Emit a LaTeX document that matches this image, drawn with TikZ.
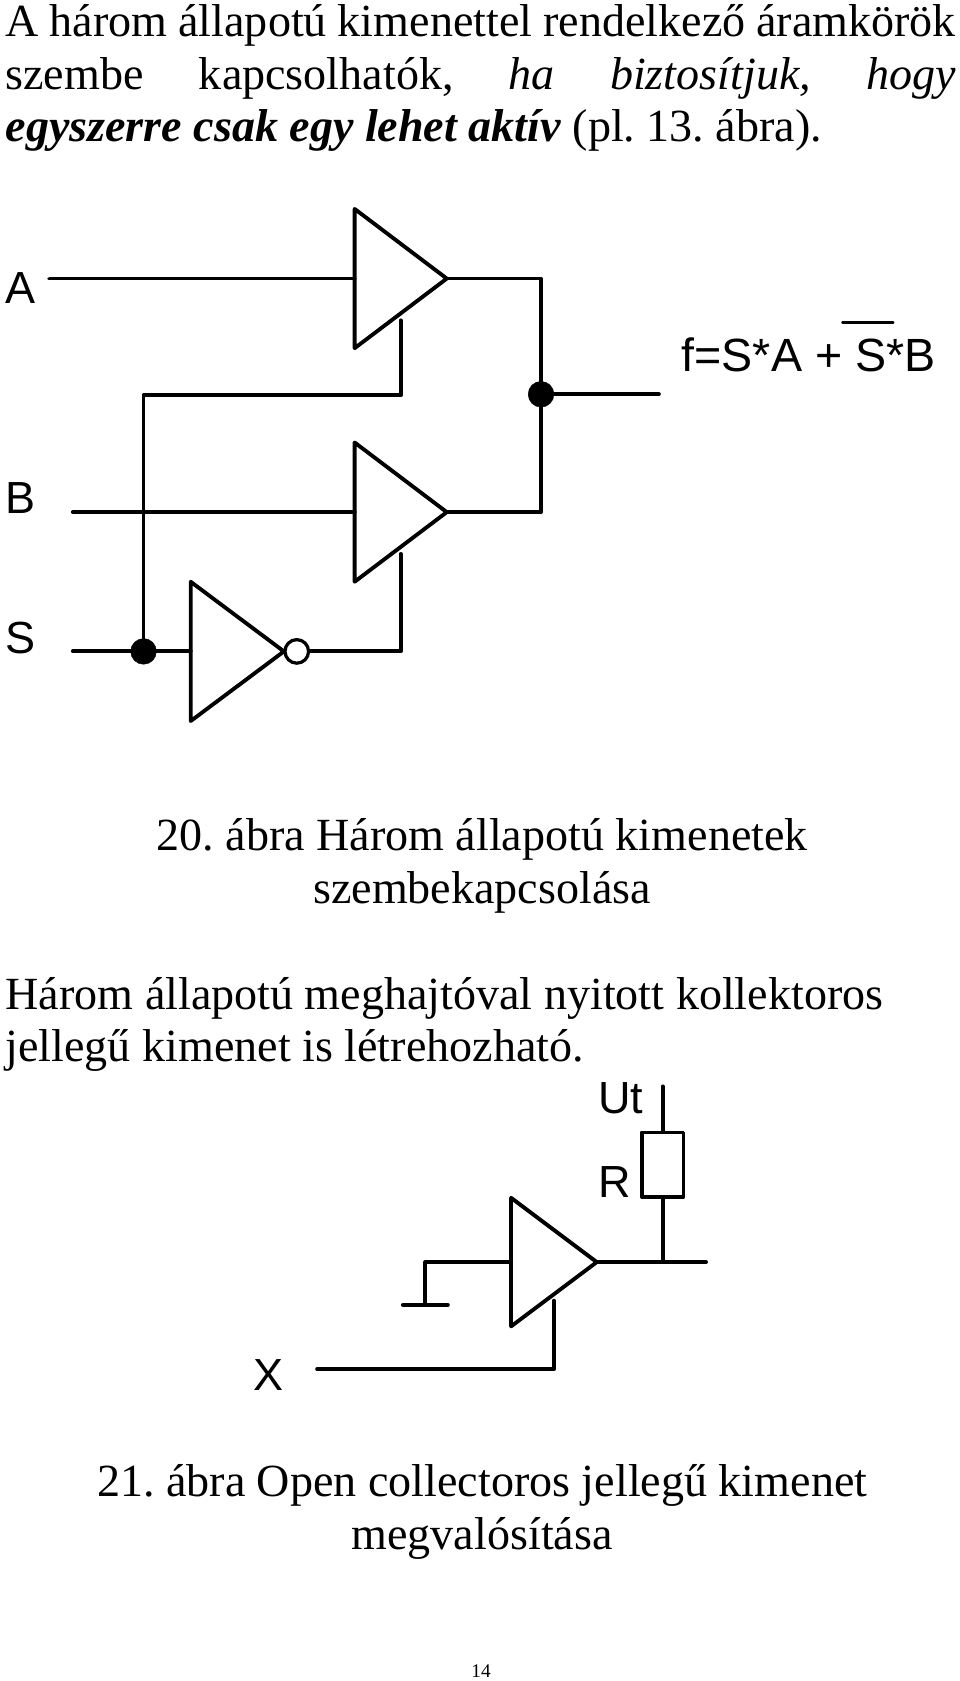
\documentclass[tikz,border=0pt]{standalone}
\usepackage{fontspec}
\setmainfont{Liberation Serif}
\newfontfamily\labelfont{Liberation Sans}
\tikzset{
	wire/.style={line width=3.6pt},
	dot/.style={circle,fill=black,draw=black,inner sep=0pt,minimum size=24pt},
	bubble/.style={circle,fill=white,draw=black,line width=3pt,inner sep=0pt,minimum size=22pt},
	sig/.style={font=\labelfont\fontsize{42}{48}\selectfont,anchor=base west,inner sep=0pt},
	body/.style={font=\frenchspacing\fontsize{43}{49}\selectfont,inner sep=0pt},
}
\begin{document}
\begin{tikzpicture}[x=1pt, y=-1pt, line join=round, line cap=round]
	\useasboundingbox (0,0) rectangle (896,1569);
	% text
	\node[body,anchor=north west,text width=887pt,align=justify] (intro) at (5,4) {A három állapotú kimenettel rendelkező áramkörök\linebreak szembe kapcsolhatók, \textit{ha biztosítjuk, hogy}\linebreak \textbf{\textit{egyszerre csak egy lehet aktív}} (pl. 13. ábra).};
	\node[body,anchor=base,align=center] (cap a) at (450,843) {20. ábra Három állapotú kimenetek\\szembekapcsolása};
	\node[body,anchor=base west] (para a) at (5,942) {Három állapotú meghajtóval nyitott kollektoros};
	\node[body,anchor=base west] (para b) at (5,991) {jellegű kimenet is létrehozható.};
	\node[body,anchor=base,align=center] (cap b) at (450,1446) {21. ábra Open collectoros jellegű kimenet\\megvalósítása};
	\node[font=\fontsize{18}{20}\selectfont,anchor=base,inner sep=0pt] (page) at (449,1566) {14};
	% gates
	\foreach \n/\x/\y/\w/\h in {ga/331/260/86/65, gb/331/478/86/65, gi/178/608/87/65, gc/477/1178/80/60}{
		\draw[wire] (\x,\y-\h) -- (\x+\w,\y) -- (\x,\y+\h) -- cycle;
		\coordinate (\n-in) at (\x,\y);
		\coordinate (\n-out) at (\x+\w,\y);
		\coordinate (\n-en) at (\x+\w/2,\y+0.6*\h);
	}
	% first circuit
	\node[sig] (la) at (5,283) {A};
	\node[sig] (lb) at (5,479) {B};
	\node[sig] (ls) at (5,610) {S};
	\node[sig,font=\labelfont\fontsize{43.5}{48}\selectfont] (lf) at (636,347) {f=S*A + S*B};
	\coordinate (bar a) at (787,301);
	\coordinate (bar b) at (833,301);
	\draw[wire] (bar a) -- (bar b);
	\coordinate (a) at (46,260);
	\coordinate (b) at (68,478);
	\coordinate (s) at (68,608);
	\coordinate (f) at (615,368);
	\node[dot] (jf) at (505,368) {};
	\node[dot] (js) at (134,608) {};
	\node[bubble] (ninv) at (277,608) {};
	\draw[wire] (a) -- (ga-in);
	\draw[wire] (b) -- (gb-in);
	\draw[wire] (s) -- (js) -- (gi-in);
	\draw[wire] (gi-out) -- (ninv);
	\draw[wire] (ga-out) -| (jf);
	\draw[wire] (gb-out) -| (jf);
	\draw[wire] (jf) -- (f);
	\draw[wire] (js) |- (374,369) -- (ga-en);
	\draw[wire] (ninv) -| (gb-en);
	% second circuit
	\node[sig] (lu) at (558,1039) {Ut};
	\node[sig] (lr) at (558,1118) {R};
	\node[sig] (lx) at (236,1298) {X};
	\node[draw=black,wire,fill=white,minimum width=39pt,minimum height=60pt,inner sep=0pt] (res) at (618.5,1087) {};
	\coordinate (ut) at (618.5,1014);
	\coordinate (tap) at (618.5,1178);
	\coordinate (o) at (659,1178);
	\coordinate (gnd) at (397,1218);
	\coordinate (gnd l) at (376,1218);
	\coordinate (gnd r) at (418,1218);
	\coordinate (x) at (296,1278);
	\draw[wire] (ut) -- (res);
	\draw[wire] (res) -- (tap);
	\draw[wire] (gc-out) -- (o);
	\draw[wire] (gc-in) -| (gnd);
	\draw[wire] (gnd l) -- (gnd r);
	\draw[wire] (x) -| (gc-en);
\end{tikzpicture}
\end{document}
